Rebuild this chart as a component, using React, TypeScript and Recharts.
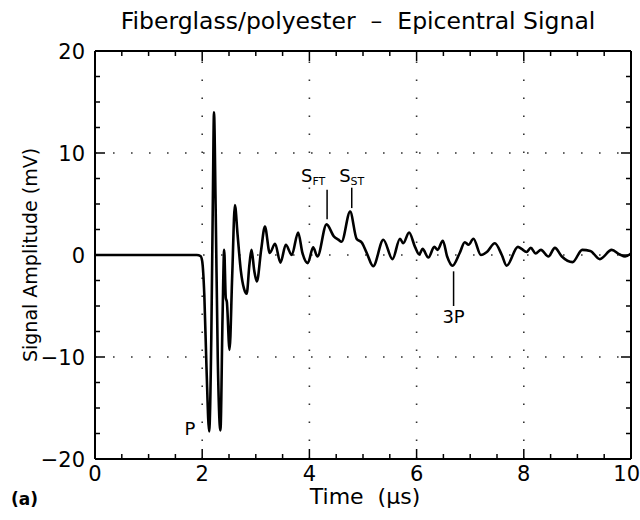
import React from 'react';
import { LineChart, Line, XAxis, YAxis, ReferenceLine, ReferenceDot } from 'recharts';

const timeUs = [
  0, 1.9, 1.97, 2.0, 2.04, 2.08, 2.13, 2.17, 2.2, 2.22, 2.25, 2.29, 2.34, 2.38, 2.41, 2.44, 2.46, 2.51,
  2.56, 2.61, 2.66, 2.72, 2.78, 2.83, 2.88, 2.92, 2.97, 3.02, 3.1, 3.17, 3.26, 3.36, 3.46, 3.56, 3.67,
  3.79, 3.87, 3.97, 4.07, 4.15, 4.32, 4.46, 4.54, 4.6, 4.76, 4.88, 4.98, 5.07, 5.19, 5.38, 5.55, 5.69,
  5.75, 5.86, 5.97, 6.05, 6.11, 6.22, 6.33, 6.39, 6.49, 6.57, 6.67, 6.8, 6.9, 6.97, 7.06, 7.2, 7.31,
  7.46, 7.59, 7.68, 7.89, 7.96, 8.05, 8.13, 8.22, 8.32, 8.46, 8.58, 8.71, 8.91, 9.09, 9.24, 9.42, 9.64,
  9.79, 9.89, 10,
];
const amplitudeMv = [
  0, 0, -0.1, -0.6, -4, -11, -17.3, -8, 6, 14, 5, -10, -17.2, -6, 0.5, -4.2, -4.6, -9.3,
  -2, 4.9, 2, -1.5, -3.3, -3.8, -1, 0.5, -1.5, -2.6, 0.5, 2.8, 0.2, 1.1, -0.75, 1.0, 0,
  2.2, 0.2, -0.8, 0.75, -0.15, 3.0, 1.8, 1.5, 1.3, 4.25, 1.6, 1.2, 0.2, -1.1, 1.5, -0.4, 1.6,
  1.15, 2.2, 0.8, 0.05, 0.6, -0.25, 0.8, 0.5, 1.4, -0.15, -1.05, 0.15, 1.25, 1.0, 1.6, 0, 0.3,
  1.15, 0, -1.05, 0.8, 0.6, 0.3, 0.7, 0.15, 0.5, -0.15, 0.7, -0.15, -0.7, 0.5, 0.4, -0.4, 0.5,
  0.05, -0.15, 0.15,
];

const xTicks = [0, 0.5, 1, 1.5, 2, 2.5, 3, 3.5, 4, 4.5, 5, 5.5, 6, 6.5, 7, 7.5, 8, 8.5, 9, 9.5, 10];
const xMajor = [0, 2, 4, 6, 8, 10];
const yTicks = [-20, -17.5, -15, -12.5, -10, -7.5, -5, -2.5, 0, 2.5, 5, 7.5, 10, 12.5, 15, 17.5, 20];
const yMajor = [-20, -10, 0, 10, 20];
const xGrid = [2, 4, 6, 8];
const yGrid = [-10, 0, 10];

const pointerX = [4.33, 4.79, 6.69];
const pointerFrom = [3.5, 4.6, -1.6];
const pointerTo = [6.4, 6.6, -5.0];

const noteX = [4.07, 4.79, 6.69, 1.77];
const noteY = [7.2, 7.2, -6.7, -17.6];
const noteMain = ['S', 'S', '3P', 'P'];
const noteSub = ['FT', 'ST', '', ''];

const titleText = 'Fiberglass/polyester\u00a0 \u2013 \u00a0Epicentral Signal';
const xLabel = 'Time\u00a0 (\u03bcs)';
const yLabel = 'Signal Amplitude (mV)';
const panelTag = '(a)';

const data = timeUs.map((t, i) => ({ t, v: amplitudeMv[i] }));

const FONT = 'DejaVu Sans';
const W = 640;
const H = 520;
const AX_B = 30;
const AX_T = 20;
const AX_L = 60;
const AX_R = 5;
const M = { top: 51 - AX_T, right: 9 - AX_R, bottom: 61 - AX_B, left: 95 - AX_L };

const isIn = (arr: number[], v: number) => arr.some((a) => Math.abs(a - v) < 1e-9);

const BottomTick = (p: any) => {
  const { x, y, payload } = p;
  const major = isIn(xMajor, payload.value);
  const last = payload.value === 10;
  return (
    <g>
      <line x1={x} y1={y} x2={x} y2={y - (major ? 10 : 5)} stroke="#000" strokeWidth={1.5} />
      {major && (
        <text
          x={last ? x + 9 : x}
          y={y + 22}
          textAnchor={last ? 'end' : 'middle'}
          fontFamily={FONT}
          fontSize={21}
          fill="#000"
        >
          {payload.value}
        </text>
      )}
    </g>
  );
};
const TopTick = (p: any) => {
  const { x, y, payload } = p;
  const major = isIn(xMajor, payload.value);
  return <line x1={x} y1={y} x2={x} y2={y + (major ? 10 : 5)} stroke="#000" strokeWidth={1.5} />;
};
const LeftTick = (p: any) => {
  const { x, y, payload } = p;
  const major = isIn(yMajor, payload.value);
  return (
    <g>
      <line x1={x} y1={y} x2={x + (major ? 10 : 5)} y2={y} stroke="#000" strokeWidth={1.5} />
      {major && (
        <text x={x - 10} y={y} dy="0.36em" textAnchor="end" fontFamily={FONT} fontSize={21} fill="#000">
          {payload.value < 0 ? '\u2212' + Math.abs(payload.value) : payload.value}
        </text>
      )}
    </g>
  );
};
const RightTick = (p: any) => {
  const { x, y, payload } = p;
  const major = isIn(yMajor, payload.value);
  return <line x1={x} y1={y} x2={x - (major ? 10 : 5)} y2={y} stroke="#000" strokeWidth={1.5} />;
};

const noteContent = (i: number) => (p: any) => {
  const vb = p.viewBox || {};
  const cx = (vb.x ?? 0) + (vb.width ?? 0) / 2;
  const cy = (vb.y ?? 0) + (vb.height ?? 0) / 2;
  return (
    <text x={cx} y={cy} textAnchor="middle" fontFamily={FONT} fontSize={18} fill="#000">
      {noteMain[i]}
      {noteSub[i] && (
        <tspan fontSize={11} dy={3}>
          {noteSub[i]}
        </tspan>
      )}
    </text>
  );
};

export default function App() {
  return (
    <div style={{ position: 'absolute', left: 0, top: 0, width: W, height: H, background: '#fff' }}>
      <LineChart width={W} height={H} data={data} margin={M}>
        <XAxis
          dataKey="t"
          type="number"
          domain={[0, 10]}
          ticks={xTicks}
          interval={0}
          allowDataOverflow
          height={AX_B}
          tickSize={0}
          tickMargin={0}
          tickLine={false}
          tick={<BottomTick />}
          axisLine={{ stroke: '#000', strokeWidth: 2 }}
          label={{
            content: (p: any) => {
              const vb = p.viewBox;
              return (
                <text x={vb.x + vb.width / 2 + 2} y={504} textAnchor="middle" fontFamily={FONT} fontSize={22} fill="#000">
                  {xLabel}
                </text>
              );
            },
          }}
        />
        <XAxis
          xAxisId="top"
          orientation="top"
          dataKey="t"
          type="number"
          domain={[0, 10]}
          ticks={xTicks}
          interval={0}
          allowDataOverflow
          height={AX_T}
          tickSize={0}
          tickMargin={0}
          tickLine={false}
          tick={<TopTick />}
          axisLine={{ stroke: '#000', strokeWidth: 2 }}
          label={{
            content: () => (
              <text x={358} y={29} textAnchor="middle" fontFamily={FONT} fontSize={23.5} fill="#000">
                {titleText}
              </text>
            ),
          }}
        />
        <YAxis
          type="number"
          domain={[-20, 20]}
          ticks={yTicks}
          interval={0}
          allowDataOverflow
          width={AX_L}
          tickSize={0}
          tickMargin={0}
          tickLine={false}
          tick={<LeftTick />}
          axisLine={{ stroke: '#000', strokeWidth: 2 }}
          label={{
            content: () => (
              <g>
                <text
                  x={30}
                  y={255}
                  transform="rotate(-90 30 255)"
                  dy="0.36em"
                  textAnchor="middle"
                  fontFamily={FONT}
                  fontSize={19}
                  fill="#000"
                >
                  {yLabel}
                </text>
                <text x={11} y={505} fontFamily={FONT} fontSize={17} fontWeight="bold" fill="#000">
                  {panelTag}
                </text>
              </g>
            ),
          }}
        />
        <YAxis
          yAxisId="right"
          orientation="right"
          type="number"
          domain={[-20, 20]}
          ticks={yTicks}
          interval={0}
          allowDataOverflow
          width={AX_R}
          tickSize={0}
          tickMargin={0}
          tickLine={false}
          tick={<RightTick />}
          axisLine={{ stroke: '#000', strokeWidth: 2 }}
        />
        {xGrid.map((g) => (
          <ReferenceLine key={'gx' + g} x={g} stroke="#333" strokeWidth={1.6} strokeDasharray="1.6 16.4" />
        ))}
        {yGrid.map((g) => (
          <ReferenceLine key={'gy' + g} y={g} stroke="#333" strokeWidth={1.6} strokeDasharray="1.6 16.4" />
        ))}
        <Line
          dataKey="v"
          type="monotone"
          stroke="#000"
          strokeWidth={2.6}
          dot={false}
          activeDot={false}
          isAnimationActive={false}
        />
        {pointerX.map((px, i) => (
          <ReferenceLine
            key={'pl' + i}
            segment={[
              { x: px, y: pointerFrom[i] },
              { x: px, y: pointerTo[i] },
            ]}
            stroke="#000"
            strokeWidth={1.5}
          />
        ))}
        {noteX.map((nx, i) => (
          <ReferenceDot
            key={'nt' + i}
            x={nx}
            y={noteY[i]}
            r={1}
            fill="none"
            stroke="none"
            ifOverflow="visible"
            label={{ content: noteContent(i) }}
          />
        ))}
      </LineChart>
    </div>
  );
}
